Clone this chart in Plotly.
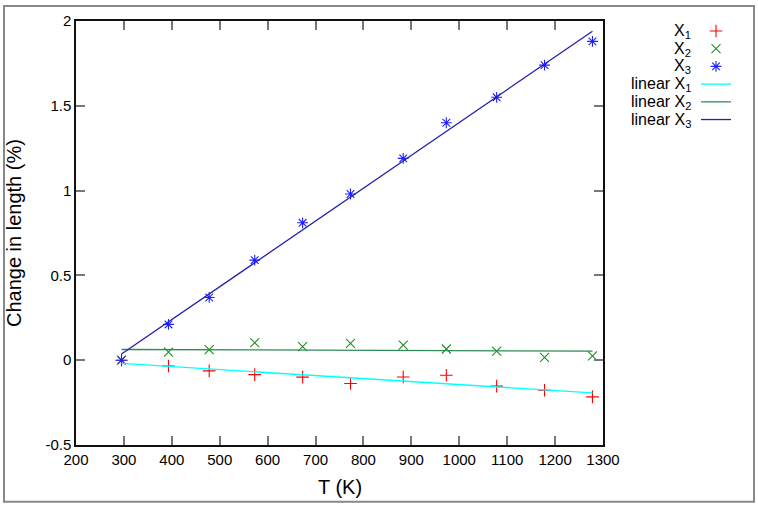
import numpy as np
import plotly.graph_objects as go

# ---- data ----
temperature_K = [295, 393, 478, 573, 673, 773, 883, 973, 1078, 1178, 1278]
x1_change = [0.0, -0.034, -0.063, -0.085, -0.100, -0.137, -0.099, -0.089, -0.153, -0.177, -0.216]
x2_change = [0.0, 0.048, 0.062, 0.103, 0.080, 0.099, 0.089, 0.066, 0.054, 0.017, 0.025]
x3_change = [0.0, 0.211, 0.370, 0.590, 0.810, 0.980, 1.190, 1.400, 1.550, 1.740, 1.880]

x_ticks = [200, 300, 400, 500, 600, 700, 800, 900, 1000, 1100, 1200, 1300]
y_ticks = [-0.5, 0, 0.5, 1, 1.5, 2]
y_tick_text = ["-0.5", "0", "0.5", "1", "1.5", "2"]

series_names = ["X<sub>1</sub>", "X<sub>2</sub>", "X<sub>3</sub>"]
fit_names = ["linear X<sub>1</sub>", "linear X<sub>2</sub>", "linear X<sub>3</sub>"]
marker_colors = ["#ff0000", "#1f8f1f", "#1f1fff"]
marker_symbols = ["cross-thin-open", "x-thin-open", "asterisk-open"]
line_colors = ["#00ffff", "#2e8b57", "#2222aa"]

# ---- layout geometry (pixels) ----
W, H = 758, 506
L, R, T, B = 76, 155, 19, 61
pw, ph = W - L - R, H - T - B

def px_x(p):
    return (p - L) / pw

def px_y(p):
    return (H - B - p) / ph

FONT = "Liberation Sans, Arial, sans-serif"

row_h = 17.8
row0 = 29.0
legend_ids = ["legend", "legend2", "legend3", "legend4", "legend5", "legend6"]

fig = go.Figure()
ys = [x1_change, x2_change, x3_change]
for i, (y, c, s) in enumerate(zip(ys, marker_colors, marker_symbols)):
    fig.add_trace(go.Scatter(
        x=temperature_K, y=y, mode="markers", name=" ", legend=legend_ids[i],
        marker=dict(symbol=s, size=9, color=c, line=dict(color=c, width=1.1)),
    ))

tx = np.array(temperature_K, dtype=float)
for j, (y, c) in enumerate(zip(ys, line_colors)):
    k, b = np.polyfit(tx, np.array(y), 1)
    xs = [tx[0], tx[-1]]
    fig.add_trace(go.Scatter(
        x=xs, y=[k * v + b for v in xs], mode="lines", name=" ", legend=legend_ids[3 + j],
        line=dict(color=c, width=1.3),
    ))

labels = series_names + fit_names
annos = []
legends = {}
for i, lab in enumerate(labels):
    yc = row0 + i * row_h
    annos.append(dict(
        text=lab, xref="paper", yref="paper", x=px_x(693), y=px_y(yc + 0.5),
        xanchor="right", yanchor="middle", showarrow=False,
        font=dict(family=FONT, size=16, color="#000"),
    ))
    legends[legend_ids[i]] = dict(
        x=px_x(696), y=px_y(yc), xanchor="left", yanchor="middle",
        bgcolor="rgba(0,0,0,0)", borderwidth=0, font=dict(family=FONT, size=10),
    )
annos.append(dict(text="T (K)", xref="paper", yref="paper", x=0.5, y=px_y(487),
                  xanchor="center", yanchor="middle", showarrow=False,
                  font=dict(family=FONT, size=20, color="#000")))
annos.append(dict(text="Change in length (%)", xref="paper", yref="paper", x=px_x(14),
                  y=px_y(232), xanchor="center", yanchor="middle", showarrow=False, textangle=-90,
                  font=dict(family=FONT, size=20, color="#000")))

axis_common = dict(
    showgrid=False, zeroline=False, showline=True, linecolor="#111", linewidth=1.5,
    mirror="ticks", ticks="inside", ticklen=9, tickwidth=1.5, tickcolor="#777",
    tickfont=dict(family=FONT, size=15, color="#000"),
)

fig.update_layout(
    width=W, height=H,
    margin=dict(l=L, r=R, t=T, b=B),
    paper_bgcolor="white", plot_bgcolor="white",
    xaxis=dict(range=[200, 1300], tickmode="array", tickvals=x_ticks,
               ticktext=[str(v) for v in x_ticks], **axis_common),
    yaxis=dict(range=[-0.5, 2], tickmode="array", tickvals=y_ticks,
               ticktext=y_tick_text, **axis_common),
    showlegend=True,
    annotations=annos,
    shapes=[dict(type="rect", xref="paper", yref="paper",
                 x0=px_x(4), x1=px_x(754), y0=px_y(502), y1=px_y(4),
                 line=dict(color="#888", width=2), layer="below")],
    **legends,
)

fig.write_html("out.html")
